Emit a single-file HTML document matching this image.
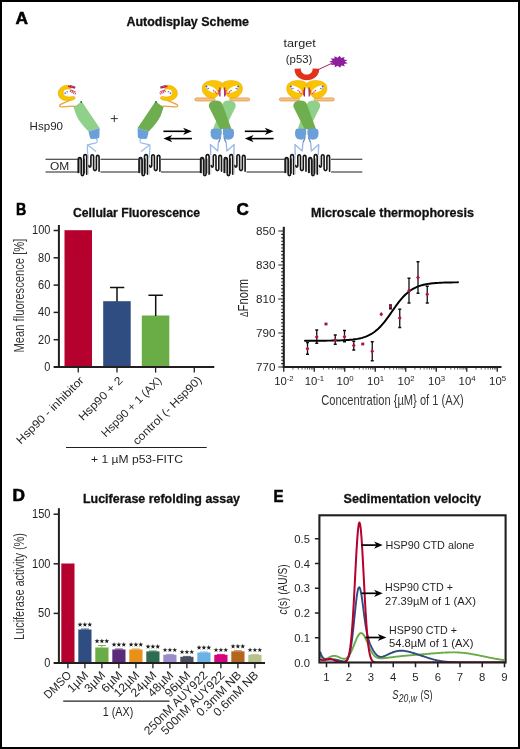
<!DOCTYPE html>
<html><head><meta charset="utf-8"><title>Figure</title>
<style>html,body{margin:0;padding:0;background:#fff;}svg{display:block;will-change:transform;opacity:0.999;}text{font-family:"Liberation Sans",sans-serif;}</style></head><body>
<svg width="520" height="749" viewBox="0 0 520 749">
<rect x="0" y="0" width="520" height="749" fill="#fff"/>
<rect x="1" y="1" width="518" height="747" fill="none" stroke="#000" stroke-width="2"/>
<defs>
<g id="barrel"><rect x="0.3" y="4.6" width="22" height="14" fill="#fff"/><path d="M1.5,18.5 V6.5 a1.3,1.8 0 0 1 2.6,0 V19.5 M6.9,19 V5" fill="none" stroke="#555" stroke-width="1.3" stroke-linecap="round"/><path d="M0.7,18.5 V5.8 a1.5,2.2 0 0 1 3,0 V19.8 a1.25,1.8 0 0 0 2.5,0 V2.8 a1.5,2.2 0 0 1 3,0 V20.3" fill="none" stroke="#161616" stroke-width="1.6" stroke-linecap="round"/><path d="M10.9,1.5 V20.5" stroke="#cfd3d6" stroke-width="1.1" fill="none"/><path d="M11.4,11.5 a1,1.6 0 0 0 2,0 V2.8 a1.35,2 0 0 1 2.7,0 V14.6 a1.4,2 0 0 0 2.8,0 V3.4 a1.35,2 0 0 1 2.7,0 V17.2" fill="none" stroke="#161616" stroke-width="1.6" stroke-linecap="round"/></g>
<g id="head">
<path d="M3.2,-8.3 C-3.5,-9.6 -9.3,-5 -9.1,0.2 C-9,5.6 -4.2,8.6 1,8.3 C4.2,8.2 7.6,7.6 8.9,6.2 C9.6,5 8.6,3.6 7,3.7 C4,4.4 0,4.6 -2.2,3 C-4.4,1.2 -4.2,-2.4 -1.8,-3.9 C0,-4.9 2.4,-4.5 3.6,-4.3 C5,-4.4 5.2,-7.6 3.2,-8.3Z" fill="#f8c400" stroke="#eaa400" stroke-width="0.6"/>
<path d="M1.5,-7.4 L9,-5.6" stroke="#c8202c" stroke-width="1.7" fill="none"/>
<path d="M3.4,-8.4 L9.4,-6.6" stroke="#6a2c91" stroke-width="1.0" fill="none"/>
<path d="M3.6,-2.6 L9.8,0.8" stroke="#e0457b" stroke-width="2.4" stroke-dasharray="1.3 0.7" fill="none"/>
<path d="M4.2,-3.6 L9.6,-1.4" stroke="#c8202c" stroke-width="0.8" fill="none"/>
<path d="M-2.2,0.6 L1,-1.6" stroke="#3b5fc0" stroke-width="1.7" fill="none"/>
<circle cx="-0.2" cy="-0.4" r="1.0" fill="#fff"/>
</g>
<g id="wing">
<path d="M10.2,-6.2 C7,-9.6 -3.5,-10.2 -8,-5.8 C-11.3,-2 -10,4 -5.5,7 C-2.5,9 2,9.2 4.2,7.6 C6,5.5 8,3 8.6,0.8 C9.6,-1.5 10.6,-4 10.2,-6.2Z" fill="#f9c400" stroke="#eba300" stroke-width="0.5"/>
<ellipse cx="-0.6" cy="0.2" rx="6.6" ry="2.5" transform="rotate(27)" fill="#fff"/>
<circle cx="-5.6" cy="-2.8" r="1.0" fill="#3f5fc4"/>
<circle cx="-3.6" cy="-0.9" r="0.8" fill="#5a7bd8"/>
<circle cx="-4.9" cy="-0.6" r="0.6" fill="#8a5ac0"/>
<circle cx="1.6" cy="1.2" r="0.8" fill="#e0457b"/>
<circle cx="3.2" cy="2.6" r="0.8" fill="#c8202c"/>
<circle cx="4.6" cy="4.1" r="0.7" fill="#e0457b"/>
<path d="M7.9,-1.8 V7.2" stroke="#9a1f86" stroke-width="1.2" fill="none"/>
<path d="M6.6,0.5 L7.2,6" stroke="#d62a4a" stroke-width="0.9" fill="none"/>
</g>
</defs>
<text x="15.5" y="24" font-size="16" text-anchor="start" font-weight="bold" stroke="#000" stroke-width="0.55" textLength="12.5" lengthAdjust="spacingAndGlyphs" fill="#000" >A</text>
<text x="126.5" y="25.5" font-size="12.5" text-anchor="start" font-weight="bold" stroke="#111" stroke-width="0.3" textLength="122.5" lengthAdjust="spacingAndGlyphs" fill="#111" >Autodisplay Scheme</text>
<text x="29.6" y="130" font-size="10.6" text-anchor="start" textLength="33.4" lengthAdjust="spacingAndGlyphs" fill="#231f20" >Hsp90</text>
<text x="50" y="170" font-size="10.5" text-anchor="start" textLength="19.2" lengthAdjust="spacingAndGlyphs" fill="#231f20" >OM</text>
<path d="M110.8,118.6 H117.8 M114.3,115.1 V122.1" stroke="#231f20" stroke-width="0.9" fill="none"/>
<text x="283.5" y="47" font-size="11.6" text-anchor="start" textLength="32.3" lengthAdjust="spacingAndGlyphs" fill="#231f20" >target</text>
<text x="285.8" y="62.6" font-size="11.6" text-anchor="start" textLength="26.5" lengthAdjust="spacingAndGlyphs" fill="#231f20" >(p53)</text>
<path d="M45.5,159.25 H78 M45.5,172 H78" stroke="#231f20" stroke-width="1.1" fill="none"/>
<path d="M100.5,159.25 H138.5 M100.5,172 H138.5" stroke="#231f20" stroke-width="1.1" fill="none"/>
<path d="M161,159.25 H200.5 M161,172 H200.5" stroke="#231f20" stroke-width="1.1" fill="none"/>
<path d="M246.5,159.25 H285 M246.5,172 H285" stroke="#231f20" stroke-width="1.1" fill="none"/>
<path d="M331,159.25 H362.3 M331,172 H362.3" stroke="#231f20" stroke-width="1.1" fill="none"/>
<g>
<path d="M96,138 C97.6,140.5 97.6,142.2 96.2,142.8 L87.4,144.8 L96.1,151.4 M87.4,144.8 C87,149 87.6,153 88.2,158" fill="none" stroke="#9cbde7" stroke-width="1.25" stroke-linejoin="round"/>
<path d="M70,100.3 C66,102.8 58.5,104 59.6,106.3 C60.5,108.2 70,105.2 75.5,106.5" fill="none" stroke="#eaa23a" stroke-width="1.3" stroke-linecap="round"/>
<path d="M73.6,107.4 L80.7,102 Q81.6,101.4 82.3,102.3 L99.6,128 L88.5,131.6 Q80,123 76.6,116 Z" fill="#8fd08a"/>
<circle cx="81.2" cy="101.9" r="0.8" fill="#1f3a1a"/>
<path d="M88.5,131.4 L99.6,127.9 L99.4,137 Q98.8,139 96,138.7 L91.5,139 Q90,138.8 89.8,137 Z" fill="#6a9fd9"/>
<use href="#head" transform="translate(66.7,93.1) scale(0.93,0.92)"/>
</g>
<g transform="translate(237.2,0) scale(-1,1)">
<path d="M96,138 C97.6,140.5 97.6,142.2 96.2,142.8 L87.4,144.8 L96.1,151.4 M87.4,144.8 C87,149 87.6,153 88.2,158" fill="none" stroke="#9cbde7" stroke-width="1.25" stroke-linejoin="round"/>
<path d="M70,100.3 C66,102.8 58.5,104 59.6,106.3 C60.5,108.2 70,105.2 75.5,106.5" fill="none" stroke="#eaa23a" stroke-width="1.3" stroke-linecap="round"/>
<path d="M73.6,107.4 L80.7,102 Q81.6,101.4 82.3,102.3 L99.6,128 L88.5,131.6 Q80,123 76.6,116 Z" fill="#6fae4e"/>
<circle cx="81.2" cy="101.9" r="0.8" fill="#1f3a1a"/>
<path d="M88.5,131.4 L99.6,127.9 L99.4,137 Q98.8,139 96,138.7 L91.5,139 Q90,138.8 89.8,137 Z" fill="#6a9fd9"/>
<use href="#head" transform="translate(68.3,93.1) scale(0.93,0.92)"/>
</g>
<use href="#barrel" transform="translate(77.5,154)"/>
<use href="#barrel" transform="translate(138.3,154)"/>
<path d="M163.4,131.3 H186.9" stroke="#000" stroke-width="1.6" fill="none"/>
<path d="M191.9,131.3 L183.1,127.70000000000002 L185.6,131.3 L183.1,134.9Z" fill="#000"/>
<path d="M191.9,138.6 H168.4" stroke="#000" stroke-width="1.6" fill="none"/>
<path d="M163.4,138.6 L172.20000000000002,135.0 L169.70000000000002,138.6 L172.20000000000002,142.2Z" fill="#000"/>
<path d="M244.8,131.3 H268.6" stroke="#000" stroke-width="1.6" fill="none"/>
<path d="M273.6,131.3 L264.8,127.70000000000002 L267.3,131.3 L264.8,134.9Z" fill="#000"/>
<path d="M273.6,138.6 H249.8" stroke="#000" stroke-width="1.6" fill="none"/>
<path d="M244.8,138.6 L253.60000000000002,135.0 L251.10000000000002,138.6 L253.60000000000002,142.2Z" fill="#000"/>
<g transform="translate(222.3,0)">
<g transform="scale(1,1)">
<path d="M-1.6,137.5 L-3.9,143 L-4.6,151 L-11.9,144.6 L-11.5,155" fill="none" stroke="#96b9e5" stroke-width="1.35" stroke-linejoin="round"/>
<path d="M-1.4,136.5 L-3.6,142.2" fill="none" stroke="#5f7496" stroke-width="0.8"/>
</g>
<g transform="scale(-1,1)">
<path d="M-1.6,137.5 L-3.9,143 L-4.6,151 L-11.9,144.6 L-11.5,155" fill="none" stroke="#96b9e5" stroke-width="1.35" stroke-linejoin="round"/>
<path d="M-1.4,136.5 L-3.6,142.2" fill="none" stroke="#5f7496" stroke-width="0.8"/>
</g>
<rect x="-27.4" y="98" width="20" height="2.9" rx="1.45" fill="#f4c48e" stroke="#e6a052" stroke-width="1.0"/>
<rect x="7.4" y="98" width="20" height="2.9" rx="1.45" fill="#f4c48e" stroke="#e6a052" stroke-width="1.0"/>
<path d="M13.4,106.8 L2.3,129 L-9.2,129 L0.6,103.5 Q1.5,100.4 6.5,100.4 Q14.2,100.6 13.4,106.8Z" fill="#8fd08a"/>
<path d="M-13.4,106.8 L-2.3,129 L9.2,129 L-0.2,103.5 Q-1.5,100.4 -6.5,100.4 Q-14.2,100.6 -13.4,106.8Z" fill="#6fae4e"/>
<path d="M-10.8,129 Q-6,128 -0.7,129 Q0.2,134 -2,138 Q-4,140.3 -7,139.6 Q-10,139.5 -11.5,136 Q-12.6,132 -10.8,129Z" fill="#6a9fd9"/>
<path d="M10.8,129 Q6,128 0.7,129 Q-0.2,134 2,138 Q4,140.3 7,139.6 Q10,139.5 11.5,136 Q12.6,132 10.8,129Z" fill="#6a9fd9"/>
<use href="#wing" transform="translate(-10.3,89.4)"/>
<use href="#wing" transform="translate(10.3,89.4) scale(-1,1)"/>
<path d="M0,94.2 L2.3,99 L0,103.2 L-2.3,99Z" fill="#fff"/>
</g>
<use href="#barrel" transform="translate(199.9,154)"/>
<use href="#barrel" transform="translate(223.5,154)"/>
<g transform="translate(306.8,0)">
<g transform="scale(1,1)">
<path d="M-1.6,137.5 L-3.9,143 L-4.6,151 L-11.9,144.6 L-11.5,155" fill="none" stroke="#96b9e5" stroke-width="1.35" stroke-linejoin="round"/>
<path d="M-1.4,136.5 L-3.6,142.2" fill="none" stroke="#5f7496" stroke-width="0.8"/>
</g>
<g transform="scale(-1,1)">
<path d="M-1.6,137.5 L-3.9,143 L-4.6,151 L-11.9,144.6 L-11.5,155" fill="none" stroke="#96b9e5" stroke-width="1.35" stroke-linejoin="round"/>
<path d="M-1.4,136.5 L-3.6,142.2" fill="none" stroke="#5f7496" stroke-width="0.8"/>
</g>
<rect x="-27.4" y="98" width="20" height="2.9" rx="1.45" fill="#f4c48e" stroke="#e6a052" stroke-width="1.0"/>
<rect x="7.4" y="98" width="20" height="2.9" rx="1.45" fill="#f4c48e" stroke="#e6a052" stroke-width="1.0"/>
<path d="M13.4,106.8 L2.3,129 L-9.2,129 L0.6,103.5 Q1.5,100.4 6.5,100.4 Q14.2,100.6 13.4,106.8Z" fill="#8fd08a"/>
<path d="M-13.4,106.8 L-2.3,129 L9.2,129 L-0.2,103.5 Q-1.5,100.4 -6.5,100.4 Q-14.2,100.6 -13.4,106.8Z" fill="#6fae4e"/>
<path d="M-10.8,129 Q-6,128 -0.7,129 Q0.2,134 -2,138 Q-4,140.3 -7,139.6 Q-10,139.5 -11.5,136 Q-12.6,132 -10.8,129Z" fill="#6a9fd9"/>
<path d="M10.8,129 Q6,128 0.7,129 Q-0.2,134 2,138 Q4,140.3 7,139.6 Q10,139.5 11.5,136 Q12.6,132 10.8,129Z" fill="#6a9fd9"/>
<use href="#wing" transform="translate(-10.3,89.4)"/>
<use href="#wing" transform="translate(10.3,89.4) scale(-1,1)"/>
<path d="M0,94.2 L2.3,99 L0,103.2 L-2.3,99Z" fill="#fff"/>
</g>
<use href="#barrel" transform="translate(284.40000000000003,154)"/>
<use href="#barrel" transform="translate(308.0,154)"/>
<path d="M294.6,68.8 L300.8,68.5 C300.5,76.5 313,76.5 312.6,68.5 L319.2,68.8 C319.5,84 294,84 294.6,68.8Z" fill="#e0341a"/>
<path d="M318.3,69.6 L332,63.2" stroke="#b0205a" stroke-width="1" fill="none"/>
<polygon points="347.7,59.9 344.8,61.6 347.8,63.3 343.9,63.9 344.9,66.3 341.3,65.4 340.1,67.7 337.8,65.8 334.8,67.3 334.6,64.8 330.7,65.1 332.7,62.9 329.1,61.8 332.6,60.6 330.5,58.5 334.5,58.6 334.5,56.2 337.6,57.7 339.8,55.7 341.1,57.9 344.7,57.0 343.8,59.4" fill="#8e1f9c"/>
<text x="16" y="214.8" font-size="16" text-anchor="start" font-weight="bold" stroke="#000" stroke-width="0.55" textLength="10.3" lengthAdjust="spacingAndGlyphs" fill="#000" >B</text>
<text x="73" y="217" font-size="12.5" text-anchor="start" font-weight="bold" stroke="#111" stroke-width="0.3" textLength="127" lengthAdjust="spacingAndGlyphs" fill="#111" >Cellular Fluorescence</text>
<rect x="64.5" y="230.2" width="27.5" height="136.8" fill="#b5002d"/>
<rect x="103.2" y="301.2" width="27.5" height="65.8" fill="#2f4d80"/>
<rect x="141.8" y="315.5" width="27.5" height="51.5" fill="#6aac45"/>
<path d="M117,301.5 V287.6 M110,287.6 H124.3" stroke="#111" stroke-width="1.5" fill="none"/>
<path d="M155.7,316 V295.2 M148.4,295.2 H162.8" stroke="#111" stroke-width="1.5" fill="none"/>
<path d="M58.9,225 V368" stroke="#231f20" stroke-width="2" fill="none"/>
<path d="M53.6,367 H214.3" stroke="#231f20" stroke-width="2" fill="none"/>
<text x="50.4" y="370.9" font-size="12.8" text-anchor="end" textLength="6.1" lengthAdjust="spacingAndGlyphs" fill="#231f20" >0</text>
<path d="M53.6,339.7 H58.9" stroke="#231f20" stroke-width="1.5" fill="none"/>
<text x="50.4" y="343.6" font-size="12.8" text-anchor="end" textLength="12.3" lengthAdjust="spacingAndGlyphs" fill="#231f20" >20</text>
<path d="M53.6,312.4 H58.9" stroke="#231f20" stroke-width="1.5" fill="none"/>
<text x="50.4" y="316.3" font-size="12.8" text-anchor="end" textLength="12.3" lengthAdjust="spacingAndGlyphs" fill="#231f20" >40</text>
<path d="M53.6,285.1 H58.9" stroke="#231f20" stroke-width="1.5" fill="none"/>
<text x="50.4" y="289.0" font-size="12.8" text-anchor="end" textLength="12.3" lengthAdjust="spacingAndGlyphs" fill="#231f20" >60</text>
<path d="M53.6,257.8 H58.9" stroke="#231f20" stroke-width="1.5" fill="none"/>
<text x="50.4" y="261.7" font-size="12.8" text-anchor="end" textLength="12.3" lengthAdjust="spacingAndGlyphs" fill="#231f20" >80</text>
<path d="M53.6,230.5 H58.9" stroke="#231f20" stroke-width="1.5" fill="none"/>
<text x="50.4" y="234.4" font-size="12.8" text-anchor="end" textLength="18.4" lengthAdjust="spacingAndGlyphs" fill="#231f20" >100</text>
<path d="M78.25,367 V372.6" stroke="#231f20" stroke-width="1.3" fill="none"/>
<path d="M117,367 V372.6" stroke="#231f20" stroke-width="1.3" fill="none"/>
<path d="M155.6,367 V372.6" stroke="#231f20" stroke-width="1.3" fill="none"/>
<path d="M194.3,367 V372.6" stroke="#231f20" stroke-width="1.3" fill="none"/>
<text transform="translate(23.9,352.5) rotate(-90)" font-size="14.4" textLength="113.8" lengthAdjust="spacingAndGlyphs" fill="#3a3637">Mean fluorescence [%]</text>
<text transform="translate(84.5,381) rotate(-45)" text-anchor="end" font-size="11.2" textLength="90" lengthAdjust="spacingAndGlyphs" fill="#231f20">Hsp90 - inhibitor</text>
<text transform="translate(123.3,381) rotate(-45)" text-anchor="end" font-size="11.2" textLength="57" lengthAdjust="spacingAndGlyphs" fill="#231f20">Hsp90 + 2</text>
<text transform="translate(162.3,381.2) rotate(-45)" text-anchor="end" font-size="11.2" textLength="80" lengthAdjust="spacingAndGlyphs" fill="#231f20">Hsp90 + 1 (AX)</text>
<text transform="translate(202.3,380.5) rotate(-45)" text-anchor="end" font-size="11.2" textLength="92" lengthAdjust="spacingAndGlyphs" fill="#231f20">control (- Hsp90)</text>
<path d="M66,447.5 H206.7" stroke="#231f20" stroke-width="1.2" fill="none"/>
<text x="137" y="463" font-size="10.6" text-anchor="middle" textLength="92" lengthAdjust="spacingAndGlyphs" fill="#231f20" >+ 1 µM p53-FITC</text>
<text x="236.5" y="214.8" font-size="16" text-anchor="start" font-weight="bold" stroke="#000" stroke-width="0.55" textLength="12.3" lengthAdjust="spacingAndGlyphs" fill="#000" >C</text>
<text x="311" y="217" font-size="12.5" text-anchor="start" font-weight="bold" stroke="#111" stroke-width="0.3" textLength="163" lengthAdjust="spacingAndGlyphs" fill="#111" >Microscale thermophoresis</text>
<path d="M283.8,226.8 V368.0" stroke="#231f20" stroke-width="2.1" fill="none"/>
<path d="M282.8,367.0 H501.5" stroke="#231f20" stroke-width="2.0" fill="none"/>
<path d="M278.3,367.00 H283.8 M281.2,363.60 H283.8 M281.2,360.20 H283.8 M281.2,356.80 H283.8 M281.2,353.40 H283.8 M281.2,350.00 H283.8 M281.2,346.60 H283.8 M281.2,343.20 H283.8 M281.2,339.80 H283.8 M281.2,336.40 H283.8 M278.3,333.00 H283.8 M281.2,329.60 H283.8 M281.2,326.20 H283.8 M281.2,322.80 H283.8 M281.2,319.40 H283.8 M281.2,316.00 H283.8 M281.2,312.60 H283.8 M281.2,309.20 H283.8 M281.2,305.80 H283.8 M281.2,302.40 H283.8 M278.3,299.00 H283.8 M281.2,295.60 H283.8 M281.2,292.20 H283.8 M281.2,288.80 H283.8 M281.2,285.40 H283.8 M281.2,282.00 H283.8 M281.2,278.60 H283.8 M281.2,275.20 H283.8 M281.2,271.80 H283.8 M281.2,268.40 H283.8 M278.3,265.00 H283.8 M281.2,261.60 H283.8 M281.2,258.20 H283.8 M281.2,254.80 H283.8 M281.2,251.40 H283.8 M281.2,248.00 H283.8 M281.2,244.60 H283.8 M281.2,241.20 H283.8 M281.2,237.80 H283.8 M281.2,234.40 H283.8 M278.3,231.00 H283.8 " stroke="#231f20" stroke-width="1.15" fill="none"/>
<text x="275.4" y="371.1" font-size="11.6" text-anchor="end" textLength="19.4" lengthAdjust="spacingAndGlyphs" fill="#231f20" >770</text>
<text x="275.4" y="337.1" font-size="11.6" text-anchor="end" textLength="19.4" lengthAdjust="spacingAndGlyphs" fill="#231f20" >790</text>
<text x="275.4" y="303.1" font-size="11.6" text-anchor="end" textLength="19.4" lengthAdjust="spacingAndGlyphs" fill="#231f20" >810</text>
<text x="275.4" y="269.1" font-size="11.6" text-anchor="end" textLength="19.4" lengthAdjust="spacingAndGlyphs" fill="#231f20" >830</text>
<text x="275.4" y="235.1" font-size="11.6" text-anchor="end" textLength="19.4" lengthAdjust="spacingAndGlyphs" fill="#231f20" >850</text>
<path d="M283.75,367.0 V371.8 M314.25,367.0 V371.8 M344.75,367.0 V371.8 M375.25,367.0 V371.8 M405.75,367.0 V371.8 M436.25,367.0 V371.8 M466.75,367.0 V371.8 M497.25,367.0 V371.8 " stroke="#231f20" stroke-width="1.3" fill="none"/>
<path d="M292.93,367.0 V369.6 M298.30,367.0 V369.6 M302.11,367.0 V369.6 M305.07,367.0 V369.6 M307.48,367.0 V369.6 M309.53,367.0 V369.6 M311.29,367.0 V369.6 M312.85,367.0 V369.6 M323.43,367.0 V369.6 M328.80,367.0 V369.6 M332.61,367.0 V369.6 M335.57,367.0 V369.6 M337.98,367.0 V369.6 M340.03,367.0 V369.6 M341.79,367.0 V369.6 M343.35,367.0 V369.6 M353.93,367.0 V369.6 M359.30,367.0 V369.6 M363.11,367.0 V369.6 M366.07,367.0 V369.6 M368.48,367.0 V369.6 M370.53,367.0 V369.6 M372.29,367.0 V369.6 M373.85,367.0 V369.6 M384.43,367.0 V369.6 M389.80,367.0 V369.6 M393.61,367.0 V369.6 M396.57,367.0 V369.6 M398.98,367.0 V369.6 M401.03,367.0 V369.6 M402.79,367.0 V369.6 M404.35,367.0 V369.6 M414.93,367.0 V369.6 M420.30,367.0 V369.6 M424.11,367.0 V369.6 M427.07,367.0 V369.6 M429.48,367.0 V369.6 M431.53,367.0 V369.6 M433.29,367.0 V369.6 M434.85,367.0 V369.6 M445.43,367.0 V369.6 M450.80,367.0 V369.6 M454.61,367.0 V369.6 M457.57,367.0 V369.6 M459.98,367.0 V369.6 M462.03,367.0 V369.6 M463.79,367.0 V369.6 M465.35,367.0 V369.6 M475.93,367.0 V369.6 M481.30,367.0 V369.6 M485.11,367.0 V369.6 M488.07,367.0 V369.6 M490.48,367.0 V369.6 M492.53,367.0 V369.6 M494.29,367.0 V369.6 M495.85,367.0 V369.6 " stroke="#231f20" stroke-width="0.7" fill="none"/>
<text x="274.2" y="385" font-size="11.3" fill="#231f20">10<tspan font-size="7.8" dy="-3.9">-2</tspan></text>
<text x="304.7" y="385" font-size="11.3" fill="#231f20">10<tspan font-size="7.8" dy="-3.9">-1</tspan></text>
<text x="336.6" y="385" font-size="11.3" fill="#231f20">10<tspan font-size="7.8" dy="-3.9">0</tspan></text>
<text x="367.1" y="385" font-size="11.3" fill="#231f20">10<tspan font-size="7.8" dy="-3.9">1</tspan></text>
<text x="397.6" y="385" font-size="11.3" fill="#231f20">10<tspan font-size="7.8" dy="-3.9">2</tspan></text>
<text x="428.1" y="385" font-size="11.3" fill="#231f20">10<tspan font-size="7.8" dy="-3.9">3</tspan></text>
<text x="458.6" y="385" font-size="11.3" fill="#231f20">10<tspan font-size="7.8" dy="-3.9">4</tspan></text>
<text x="489.1" y="385" font-size="11.3" fill="#231f20">10<tspan font-size="7.8" dy="-3.9">5</tspan></text>
<text x="321.3" y="404.8" font-size="14.3" text-anchor="start" textLength="142.5" lengthAdjust="spacingAndGlyphs" fill="#3a3637" >Concentration {µM} of 1 (AX)</text>
<text transform="translate(247.8,317) rotate(-90)" font-size="14" textLength="38" lengthAdjust="spacingAndGlyphs" fill="#231f20"><tspan font-size="10.5">Δ</tspan>Fnorm</text>
<polyline points="305.0,340.74 306.5,340.74 308.0,340.73 309.5,340.73 311.0,340.73 312.5,340.73 314.0,340.72 315.5,340.72 317.0,340.71 318.5,340.71 320.0,340.70 321.5,340.69 323.0,340.68 324.5,340.67 326.0,340.66 327.5,340.65 329.0,340.63 330.5,340.61 332.0,340.59 333.5,340.56 335.0,340.53 336.5,340.50 338.0,340.46 339.5,340.41 341.0,340.36 342.5,340.30 344.0,340.23 345.5,340.15 347.0,340.05 348.5,339.94 350.0,339.82 351.5,339.67 353.0,339.51 354.5,339.31 356.0,339.09 357.5,338.84 359.0,338.55 360.5,338.21 362.0,337.83 363.5,337.40 365.0,336.90 366.5,336.33 368.0,335.69 369.5,334.97 371.0,334.16 372.5,333.25 374.0,332.23 375.5,331.10 377.0,329.85 378.5,328.49 380.0,327.00 381.5,325.39 383.0,323.67 384.5,321.84 386.0,319.90 387.5,317.89 389.0,315.81 390.5,313.68 392.0,311.54 393.5,309.39 395.0,307.26 396.5,305.18 398.0,303.16 399.5,301.23 401.0,299.39 402.5,297.66 404.0,296.05 405.5,294.56 407.0,293.19 408.5,291.94 410.0,290.81 411.5,289.79 413.0,288.87 414.5,288.06 416.0,287.33 417.5,286.69 419.0,286.12 420.5,285.62 422.0,285.18 423.5,284.80 425.0,284.46 426.5,284.17 428.0,283.91 429.5,283.69 431.0,283.50 432.5,283.33 434.0,283.19 435.5,283.06 437.0,282.95 438.5,282.85 440.0,282.77 441.5,282.70 443.0,282.64 444.5,282.59 446.0,282.54 447.5,282.50 449.0,282.47 450.5,282.44 452.0,282.41 453.5,282.39 455.0,282.37 456.5,282.35 458.0,282.34" fill="none" stroke="#000" stroke-width="1.95" stroke-linecap="round"/>
<path d="M307.5,342.5 V354.25 M306.0,342.5 H309.0 M306.0,354.25 H309.0" stroke="#111" stroke-width="1.3" fill="none"/>
<path d="M307.5,346.45 L309.4,348.75 L307.5,351.05 L305.6,348.75Z" fill="#b0143c"/>
<path d="M316.75,330 V343.25 M315.25,330 H318.25 M315.25,343.25 H318.25" stroke="#111" stroke-width="1.3" fill="none"/>
<path d="M316.75,334.7 L318.65,337 L316.75,339.3 L314.85,337Z" fill="#b0143c"/>
<rect x="324.5" y="322.6" width="3" height="2.8" fill="#a0143c"/>
<path d="M335.25,335 V344.25 M333.75,335 H336.75 M333.75,344.25 H336.75" stroke="#111" stroke-width="1.3" fill="none"/>
<path d="M335.25,337.7 L337.15,340 L335.25,342.3 L333.35,340Z" fill="#b0143c"/>
<path d="M344.5,330.5 V341.75 M343.0,330.5 H346.0 M343.0,341.75 H346.0" stroke="#111" stroke-width="1.3" fill="none"/>
<path d="M344.5,334.45 L346.4,336.75 L344.5,339.05 L342.6,336.75Z" fill="#b0143c"/>
<path d="M353.75,341.25 V350 M352.25,341.25 H355.25 M352.25,350 H355.25" stroke="#111" stroke-width="1.3" fill="none"/>
<path d="M353.75,343.2 L355.65,345.5 L353.75,347.8 L351.85,345.5Z" fill="#b0143c"/>
<rect x="361.25" y="342.6" width="3" height="2.8" fill="#a0143c"/>
<path d="M372.25,341.75 V360.75 M370.75,341.75 H373.75 M370.75,360.75 H373.75" stroke="#111" stroke-width="1.3" fill="none"/>
<path d="M372.25,348.95 L374.15,351.25 L372.25,353.55 L370.35,351.25Z" fill="#b0143c"/>
<path d="M381.25,311.95 L383.15,314.25 L381.25,316.55 L379.35,314.25Z" fill="#b0143c"/>
<path d="M390.5,305 V308.75 M389.0,305 H392.0 M389.0,308.75 H392.0" stroke="#111" stroke-width="1.3" fill="none"/>
<rect x="389.0" y="305.35" width="3" height="2.8" fill="#a0143c"/>
<path d="M399.75,309.25 V327.5 M398.25,309.25 H401.25 M398.25,327.5 H401.25" stroke="#111" stroke-width="1.3" fill="none"/>
<path d="M399.75,315.7 L401.65,318 L399.75,320.3 L397.85,318Z" fill="#b0143c"/>
<path d="M409,278.25 V303 M407.5,278.25 H410.5 M407.5,303 H410.5" stroke="#111" stroke-width="1.3" fill="none"/>
<path d="M409,288.45 L410.9,290.75 L409,293.05 L407.1,290.75Z" fill="#b0143c"/>
<path d="M418,261.75 V293.25 M416.5,261.75 H419.5 M416.5,293.25 H419.5" stroke="#111" stroke-width="1.3" fill="none"/>
<path d="M418,275.2 L419.9,277.5 L418,279.8 L416.1,277.5Z" fill="#b0143c"/>
<path d="M427.25,286.25 V303 M425.75,286.25 H428.75 M425.75,303 H428.75" stroke="#111" stroke-width="1.3" fill="none"/>
<path d="M427.25,291.95 L429.15,294.25 L427.25,296.55 L425.35,294.25Z" fill="#b0143c"/>
<text x="12.5" y="501" font-size="16" text-anchor="start" font-weight="bold" stroke="#000" stroke-width="0.55" textLength="12.5" lengthAdjust="spacingAndGlyphs" fill="#000" >D</text>
<text x="83" y="503" font-size="12.5" text-anchor="start" font-weight="bold" stroke="#111" stroke-width="0.3" textLength="157" lengthAdjust="spacingAndGlyphs" fill="#111" >Luciferase refolding assay</text>
<rect x="61.3" y="563.5" width="13.2" height="99.5" fill="#b5002d"/>
<rect x="78.3" y="629.5" width="13.2" height="33.5" fill="#2f4d80"/>
<path d="M84.9,629.5 V629.0 M80.9,629.0 H88.9" stroke="#2f4d80" stroke-width="0.9" fill="none"/>
<polygon points="80.05,622.05 80.67,623.75 82.48,623.81 81.05,624.92 81.55,626.66 80.05,625.65 78.55,626.66 79.05,624.92 77.62,623.81 79.43,623.75" fill="#1e1e1e"/>
<polygon points="84.90,622.05 85.52,623.75 87.33,623.81 85.90,624.92 86.40,626.66 84.90,625.65 83.40,626.66 83.90,624.92 82.47,623.81 84.28,623.75" fill="#1e1e1e"/>
<polygon points="89.75,622.05 90.37,623.75 92.18,623.81 90.75,624.92 91.25,626.66 89.75,625.65 88.25,626.66 88.75,624.92 87.32,623.81 89.13,623.75" fill="#1e1e1e"/>
<rect x="95.3" y="647.5" width="13.2" height="15.5" fill="#6aac45"/>
<path d="M101.9,647.5 V645.5 M97.9,645.5 H105.9" stroke="#6aac45" stroke-width="0.9" fill="none"/>
<polygon points="97.05,638.55 97.67,640.25 99.48,640.31 98.05,641.42 98.55,643.16 97.05,642.15 95.55,643.16 96.05,641.42 94.62,640.31 96.43,640.25" fill="#1e1e1e"/>
<polygon points="101.90,638.55 102.52,640.25 104.33,640.31 102.90,641.42 103.40,643.16 101.90,642.15 100.40,643.16 100.90,641.42 99.47,640.31 101.28,640.25" fill="#1e1e1e"/>
<polygon points="106.75,638.55 107.37,640.25 109.18,640.31 107.75,641.42 108.25,643.16 106.75,642.15 105.25,643.16 105.75,641.42 104.32,640.31 106.13,640.25" fill="#1e1e1e"/>
<rect x="112.3" y="649.5" width="13.2" height="13.5" fill="#5b2a7a"/>
<path d="M118.9,649.5 V649.0 M114.9,649.0 H122.9" stroke="#5b2a7a" stroke-width="0.9" fill="none"/>
<polygon points="114.05,642.05 114.67,643.75 116.48,643.81 115.05,644.92 115.55,646.66 114.05,645.65 112.55,646.66 113.05,644.92 111.62,643.81 113.43,643.75" fill="#1e1e1e"/>
<polygon points="118.90,642.05 119.52,643.75 121.33,643.81 119.90,644.92 120.40,646.66 118.90,645.65 117.40,646.66 117.90,644.92 116.47,643.81 118.28,643.75" fill="#1e1e1e"/>
<polygon points="123.75,642.05 124.37,643.75 126.18,643.81 124.75,644.92 125.25,646.66 123.75,645.65 122.25,646.66 122.75,644.92 121.32,643.81 123.13,643.75" fill="#1e1e1e"/>
<rect x="129.3" y="649.5" width="13.2" height="13.5" fill="#e8901a"/>
<path d="M135.9,649.5 V649.0 M131.9,649.0 H139.9" stroke="#e8901a" stroke-width="0.9" fill="none"/>
<polygon points="131.05,642.05 131.67,643.75 133.48,643.81 132.05,644.92 132.55,646.66 131.05,645.65 129.55,646.66 130.05,644.92 128.62,643.81 130.43,643.75" fill="#1e1e1e"/>
<polygon points="135.90,642.05 136.52,643.75 138.33,643.81 136.90,644.92 137.40,646.66 135.90,645.65 134.40,646.66 134.90,644.92 133.47,643.81 135.28,643.75" fill="#1e1e1e"/>
<polygon points="140.75,642.05 141.37,643.75 143.18,643.81 141.75,644.92 142.25,646.66 140.75,645.65 139.25,646.66 139.75,644.92 138.32,643.81 140.13,643.75" fill="#1e1e1e"/>
<rect x="146.3" y="651.4" width="13.2" height="11.6" fill="#2f6b52"/>
<path d="M152.9,651.4 V651.0 M148.9,651.0 H156.9" stroke="#2f6b52" stroke-width="0.9" fill="none"/>
<polygon points="148.05,644.05 148.67,645.75 150.48,645.81 149.05,646.92 149.55,648.66 148.05,647.65 146.55,648.66 147.05,646.92 145.62,645.81 147.43,645.75" fill="#1e1e1e"/>
<polygon points="152.90,644.05 153.52,645.75 155.33,645.81 153.90,646.92 154.40,648.66 152.90,647.65 151.40,648.66 151.90,646.92 150.47,645.81 152.28,645.75" fill="#1e1e1e"/>
<polygon points="157.75,644.05 158.37,645.75 160.18,645.81 158.75,646.92 159.25,648.66 157.75,647.65 156.25,648.66 156.75,646.92 155.32,645.81 157.13,645.75" fill="#1e1e1e"/>
<rect x="163.3" y="654.8" width="13.2" height="8.2" fill="#9a8cc8"/>
<path d="M169.9,654.8 V654.4 M165.9,654.4 H173.9" stroke="#9a8cc8" stroke-width="0.9" fill="none"/>
<polygon points="165.05,647.45 165.67,649.15 167.48,649.21 166.05,650.32 166.55,652.06 165.05,651.05 163.55,652.06 164.05,650.32 162.62,649.21 164.43,649.15" fill="#1e1e1e"/>
<polygon points="169.90,647.45 170.52,649.15 172.33,649.21 170.90,650.32 171.40,652.06 169.90,651.05 168.40,652.06 168.90,650.32 167.47,649.21 169.28,649.15" fill="#1e1e1e"/>
<polygon points="174.75,647.45 175.37,649.15 177.18,649.21 175.75,650.32 176.25,652.06 174.75,651.05 173.25,652.06 173.75,650.32 172.32,649.21 174.13,649.15" fill="#1e1e1e"/>
<rect x="180.3" y="656.8" width="13.2" height="6.2" fill="#4a4f63"/>
<path d="M186.9,656.8 V656.4 M182.9,656.4 H190.9" stroke="#4a4f63" stroke-width="0.9" fill="none"/>
<polygon points="182.05,649.45 182.67,651.15 184.48,651.21 183.05,652.32 183.55,654.06 182.05,653.05 180.55,654.06 181.05,652.32 179.62,651.21 181.43,651.15" fill="#1e1e1e"/>
<polygon points="186.90,649.45 187.52,651.15 189.33,651.21 187.90,652.32 188.40,654.06 186.90,653.05 185.40,654.06 185.90,652.32 184.47,651.21 186.28,651.15" fill="#1e1e1e"/>
<polygon points="191.75,649.45 192.37,651.15 194.18,651.21 192.75,652.32 193.25,654.06 191.75,653.05 190.25,654.06 190.75,652.32 189.32,651.21 191.13,651.15" fill="#1e1e1e"/>
<rect x="197.3" y="652.5" width="13.2" height="10.5" fill="#6ab2e6"/>
<path d="M203.9,652.5 V652.0 M199.9,652.0 H207.9" stroke="#6ab2e6" stroke-width="0.9" fill="none"/>
<polygon points="199.05,645.05 199.67,646.75 201.48,646.81 200.05,647.92 200.55,649.66 199.05,648.65 197.55,649.66 198.05,647.92 196.62,646.81 198.43,646.75" fill="#1e1e1e"/>
<polygon points="203.90,645.05 204.52,646.75 206.33,646.81 204.90,647.92 205.40,649.66 203.90,648.65 202.40,649.66 202.90,647.92 201.47,646.81 203.28,646.75" fill="#1e1e1e"/>
<polygon points="208.75,645.05 209.37,646.75 211.18,646.81 209.75,647.92 210.25,649.66 208.75,648.65 207.25,649.66 207.75,647.92 206.32,646.81 208.13,646.75" fill="#1e1e1e"/>
<rect x="214.3" y="654.8" width="13.2" height="8.2" fill="#d6007f"/>
<path d="M220.9,654.8 V654.4 M216.9,654.4 H224.9" stroke="#d6007f" stroke-width="0.9" fill="none"/>
<polygon points="216.05,647.45 216.67,649.15 218.48,649.21 217.05,650.32 217.55,652.06 216.05,651.05 214.55,652.06 215.05,650.32 213.62,649.21 215.43,649.15" fill="#1e1e1e"/>
<polygon points="220.90,647.45 221.52,649.15 223.33,649.21 221.90,650.32 222.40,652.06 220.90,651.05 219.40,652.06 219.90,650.32 218.47,649.21 220.28,649.15" fill="#1e1e1e"/>
<polygon points="225.75,647.45 226.37,649.15 228.18,649.21 226.75,650.32 227.25,652.06 225.75,651.05 224.25,652.06 224.75,650.32 223.32,649.21 225.13,649.15" fill="#1e1e1e"/>
<rect x="231.3" y="651.3" width="13.2" height="11.7" fill="#b5651d"/>
<path d="M237.9,651.3 V650.8 M233.9,650.8 H241.9" stroke="#b5651d" stroke-width="0.9" fill="none"/>
<polygon points="233.05,643.85 233.67,645.55 235.48,645.61 234.05,646.72 234.55,648.46 233.05,647.45 231.55,648.46 232.05,646.72 230.62,645.61 232.43,645.55" fill="#1e1e1e"/>
<polygon points="237.90,643.85 238.52,645.55 240.33,645.61 238.90,646.72 239.40,648.46 237.90,647.45 236.40,648.46 236.90,646.72 235.47,645.61 237.28,645.55" fill="#1e1e1e"/>
<polygon points="242.75,643.85 243.37,645.55 245.18,645.61 243.75,646.72 244.25,648.46 242.75,647.45 241.25,648.46 241.75,646.72 240.32,645.61 242.13,645.55" fill="#1e1e1e"/>
<rect x="248.3" y="654.8" width="13.2" height="8.2" fill="#b5c48a"/>
<path d="M254.9,654.8 V654.4 M250.9,654.4 H258.9" stroke="#b5c48a" stroke-width="0.9" fill="none"/>
<polygon points="250.05,647.45 250.67,649.15 252.48,649.21 251.05,650.32 251.55,652.06 250.05,651.05 248.55,652.06 249.05,650.32 247.62,649.21 249.43,649.15" fill="#1e1e1e"/>
<polygon points="254.90,647.45 255.52,649.15 257.33,649.21 255.90,650.32 256.40,652.06 254.90,651.05 253.40,652.06 253.90,650.32 252.47,649.21 254.28,649.15" fill="#1e1e1e"/>
<polygon points="259.75,647.45 260.37,649.15 262.18,649.21 260.75,650.32 261.25,652.06 259.75,651.05 258.25,652.06 258.75,650.32 257.32,649.21 259.13,649.15" fill="#1e1e1e"/>
<path d="M58.9,508.2 V664.0" stroke="#231f20" stroke-width="2" fill="none"/>
<path d="M53.6,663.0 H265" stroke="#231f20" stroke-width="2" fill="none"/>
<text x="50.4" y="666.9" font-size="12.8" text-anchor="end" textLength="6.1" lengthAdjust="spacingAndGlyphs" fill="#231f20" >0</text>
<path d="M53.6,613.4 H58.9" stroke="#231f20" stroke-width="1.5" fill="none"/>
<text x="50.4" y="617.3" font-size="12.8" text-anchor="end" textLength="12.3" lengthAdjust="spacingAndGlyphs" fill="#231f20" >50</text>
<path d="M53.6,563.8 H58.9" stroke="#231f20" stroke-width="1.5" fill="none"/>
<text x="50.4" y="567.7" font-size="12.8" text-anchor="end" textLength="18.4" lengthAdjust="spacingAndGlyphs" fill="#231f20" >100</text>
<path d="M53.6,514.2 H58.9" stroke="#231f20" stroke-width="1.5" fill="none"/>
<text x="50.4" y="518.1" font-size="12.8" text-anchor="end" textLength="18.4" lengthAdjust="spacingAndGlyphs" fill="#231f20" >150</text>
<path d="M67.90,663.0 V668.2 M84.90,663.0 V668.2 M101.90,663.0 V668.2 M118.90,663.0 V668.2 M135.90,663.0 V668.2 M152.90,663.0 V668.2 M169.90,663.0 V668.2 M186.90,663.0 V668.2 M203.90,663.0 V668.2 M220.90,663.0 V668.2 M237.90,663.0 V668.2 M254.90,663.0 V668.2 " stroke="#231f20" stroke-width="1.3" fill="none"/>
<text transform="translate(23.9,640) rotate(-90)" font-size="14.4" textLength="107" lengthAdjust="spacingAndGlyphs" fill="#3a3637">Luciferase activity (%)</text>
<text transform="translate(72.1,676) rotate(-45)" text-anchor="end" font-size="11.8" textLength="33.4" lengthAdjust="spacingAndGlyphs" fill="#231f20">DMSO</text>
<text transform="translate(89.1,676) rotate(-45)" text-anchor="end" font-size="11.8" textLength="24.3" lengthAdjust="spacingAndGlyphs" fill="#231f20">1µM</text>
<text transform="translate(106.1,676) rotate(-45)" text-anchor="end" font-size="11.8" textLength="24.3" lengthAdjust="spacingAndGlyphs" fill="#231f20">3µM</text>
<text transform="translate(123.1,676) rotate(-45)" text-anchor="end" font-size="11.8" textLength="24.3" lengthAdjust="spacingAndGlyphs" fill="#231f20">6µM</text>
<text transform="translate(140.1,676) rotate(-45)" text-anchor="end" font-size="11.8" textLength="30.6" lengthAdjust="spacingAndGlyphs" fill="#231f20">12µM</text>
<text transform="translate(157.1,676) rotate(-45)" text-anchor="end" font-size="11.8" textLength="30.6" lengthAdjust="spacingAndGlyphs" fill="#231f20">24µM</text>
<text transform="translate(174.1,676) rotate(-45)" text-anchor="end" font-size="11.8" textLength="30.6" lengthAdjust="spacingAndGlyphs" fill="#231f20">48µM</text>
<text transform="translate(191.1,676) rotate(-45)" text-anchor="end" font-size="11.8" textLength="30.6" lengthAdjust="spacingAndGlyphs" fill="#231f20">96µM</text>
<text transform="translate(208.1,676) rotate(-45)" text-anchor="end" font-size="11.8" textLength="84" lengthAdjust="spacingAndGlyphs" fill="#231f20">250nM AUY922</text>
<text transform="translate(225.1,676) rotate(-45)" text-anchor="end" font-size="11.8" textLength="84" lengthAdjust="spacingAndGlyphs" fill="#231f20">500nM AUY922</text>
<text transform="translate(242.1,676) rotate(-45)" text-anchor="end" font-size="11.8" textLength="58" lengthAdjust="spacingAndGlyphs" fill="#231f20">0.3mM NB</text>
<text transform="translate(259.1,676) rotate(-45)" text-anchor="end" font-size="11.8" textLength="58" lengthAdjust="spacingAndGlyphs" fill="#231f20">0.6mM NB</text>
<path d="M63.2,701.2 H169.5" stroke="#231f20" stroke-width="1.2" fill="none"/>
<text x="118" y="716.4" font-size="12" text-anchor="middle" textLength="30.5" lengthAdjust="spacingAndGlyphs" fill="#231f20" >1 (AX)</text>
<text x="273.5" y="501.5" font-size="16" text-anchor="start" font-weight="bold" stroke="#000" stroke-width="0.55" textLength="10" lengthAdjust="spacingAndGlyphs" fill="#000" >E</text>
<text x="343.5" y="503" font-size="12.5" text-anchor="start" font-weight="bold" stroke="#111" stroke-width="0.3" textLength="137.5" lengthAdjust="spacingAndGlyphs" fill="#111" >Sedimentation velocity</text>
<clipPath id="eclip"><rect x="319.4" y="515.3" width="186.20000000000005" height="147.20000000000005"/></clipPath>
<g clip-path="url(#eclip)">
<polyline points="320.2,654.81 320.9,656.22 321.6,657.25 322.3,657.98 323.0,658.46 323.7,658.75 324.4,658.88 325.1,658.87 325.8,658.77 326.5,658.58 327.2,658.33 327.9,658.04 328.6,657.72 329.3,657.38 330.0,657.05 330.7,656.73 331.4,656.45 332.1,656.22 332.8,656.04 333.5,655.92 334.2,655.87 334.9,655.89 335.6,655.98 336.3,656.14 337.0,656.35 337.7,656.61 338.4,656.91 339.1,657.23 339.8,657.55 340.5,657.87 341.2,658.17 341.9,658.42 342.6,658.62 343.3,658.75 344.0,658.79 344.7,658.74 345.4,658.58 346.1,658.29 346.8,657.86 347.5,657.30 348.2,656.58 348.9,655.71 349.6,654.68 350.3,653.50 351.0,652.16 351.7,650.69 352.4,649.10 353.1,647.42 353.8,645.67 354.5,643.88 355.2,642.10 355.9,640.37 356.6,638.72 357.3,637.22 358.0,635.89 358.7,634.79 359.4,633.93 360.1,633.35 360.8,633.06 361.5,633.08 362.2,633.40 362.9,634.00 363.6,634.87 364.3,635.98 365.0,637.28 365.7,638.75 366.4,640.34 367.1,642.00 367.8,643.69 368.5,645.37 369.2,647.01 369.9,648.58 370.6,650.04 371.3,651.39 372.0,652.61 372.7,653.69 373.4,654.64 374.1,655.45 374.8,656.14 375.5,656.70 376.2,657.16 376.9,657.53 377.6,657.81 378.3,658.01 379.0,658.16 379.7,658.25 380.4,658.30 381.1,658.32 381.8,658.32 382.5,658.29 383.2,658.24 383.9,658.18 384.6,658.12 385.3,658.04 386.0,657.96 386.7,657.88 387.4,657.80 388.1,657.71 388.8,657.62 389.5,657.54 390.2,657.45 390.9,657.36 391.6,657.27 392.3,657.19 393.0,657.10 393.7,657.02 394.4,656.93 395.1,656.85 395.8,656.76 396.5,656.68 397.2,656.60 397.9,656.52 398.6,656.44 399.3,656.37 400.0,656.29 400.7,656.21 401.4,656.14 402.1,656.07 402.8,655.99 403.5,655.92 404.2,655.85 404.9,655.79 405.6,655.72 406.3,655.65 407.0,655.59 407.7,655.52 408.4,655.46 409.1,655.40 409.8,655.34 410.5,655.27 411.2,655.21 411.9,655.16 412.6,655.10 413.3,655.04 414.0,654.98 414.7,654.92 415.4,654.87 416.1,654.81 416.8,654.76 417.5,654.70 418.2,654.64 418.9,654.59 419.6,654.53 420.3,654.48 421.0,654.42 421.7,654.37 422.4,654.31 423.1,654.26 423.8,654.20 424.5,654.15 425.2,654.09 425.9,654.03 426.6,653.98 427.3,653.92 428.0,653.86 428.7,653.80 429.4,653.75 430.1,653.69 430.8,653.63 431.5,653.57 432.2,653.52 432.9,653.46 433.6,653.40 434.3,653.34 435.0,653.29 435.7,653.23 436.4,653.17 437.1,653.12 437.8,653.06 438.5,653.01 439.2,652.96 439.9,652.91 440.6,652.86 441.3,652.81 442.0,652.76 442.7,652.72 443.4,652.67 444.1,652.63 444.8,652.59 445.5,652.56 446.2,652.52 446.9,652.49 447.6,652.46 448.3,652.44 449.0,652.41 449.7,652.40 450.4,652.38 451.1,652.37 451.8,652.36 452.5,652.36 453.2,652.36 453.9,652.36 454.6,652.37 455.3,652.38 456.0,652.40 456.7,652.42 457.4,652.45 458.1,652.48 458.8,652.52 459.5,652.56 460.2,652.60 460.9,652.65 461.6,652.71 462.3,652.77 463.0,652.83 463.7,652.90 464.4,652.97 465.1,653.05 465.8,653.14 466.5,653.22 467.2,653.31 467.9,653.41 468.6,653.51 469.3,653.62 470.0,653.72 470.7,653.84 471.4,653.95 472.1,654.07 472.8,654.19 473.5,654.32 474.2,654.45 474.9,654.58 475.6,654.71 476.3,654.85 477.0,654.99 477.7,655.13 478.4,655.27 479.1,655.41 479.8,655.56 480.5,655.70 481.2,655.85 481.9,656.00 482.6,656.15 483.3,656.29 484.0,656.44 484.7,656.59 485.4,656.74 486.1,656.89 486.8,657.04 487.5,657.18 488.2,657.33 488.9,657.47 489.6,657.61 490.3,657.76 491.0,657.90 491.7,658.03 492.4,658.17 493.1,658.30 493.8,658.44 494.5,658.57 495.2,658.69 495.9,658.82 496.6,658.94 497.3,659.06 498.0,659.18 498.7,659.29 499.4,659.41 500.1,659.52 500.8,659.62 501.5,659.73 502.2,659.83 502.9,659.92 503.6,660.02 504.3,660.11" fill="none" stroke="#6aac45" stroke-width="1.9" stroke-linejoin="round"/>
<polyline points="320.2,651.69 320.9,653.82 321.6,655.46 322.3,656.70 323.0,657.64 323.7,658.33 324.4,658.82 325.1,659.17 325.8,659.39 326.5,659.53 327.2,659.59 327.9,659.60 328.6,659.58 329.3,659.55 330.0,659.50 330.7,659.45 331.4,659.42 332.1,659.40 332.8,659.40 333.5,659.43 334.2,659.48 334.9,659.56 335.6,659.67 336.3,659.80 337.0,659.95 337.7,660.11 338.4,660.29 339.1,660.48 339.8,660.66 340.5,660.85 341.2,661.02 341.9,661.18 342.6,661.30 343.3,661.39 344.0,661.41 344.7,661.35 345.4,661.16 346.1,660.80 346.8,660.21 347.5,659.31 348.2,658.01 348.9,656.22 349.6,653.81 350.3,650.72 351.0,646.85 351.7,642.18 352.4,636.74 353.1,630.59 353.8,623.93 354.5,616.97 355.2,610.03 355.9,603.46 356.6,597.61 357.3,592.83 358.0,589.41 358.7,587.52 359.4,587.26 360.1,588.57 360.8,591.31 361.5,595.23 362.2,600.01 362.9,605.32 363.6,610.84 364.3,616.28 365.0,621.41 365.7,626.08 366.4,630.22 367.1,633.79 367.8,636.84 368.5,639.42 369.2,641.63 369.9,643.54 370.6,645.22 371.3,646.74 372.0,648.13 372.7,649.42 373.4,650.63 374.1,651.75 374.8,652.77 375.5,653.69 376.2,654.50 376.9,655.19 377.6,655.75 378.3,656.20 379.0,656.52 379.7,656.74 380.4,656.85 381.1,656.87 381.8,656.81 382.5,656.68 383.2,656.50 383.9,656.27 384.6,656.00 385.3,655.71 386.0,655.40 386.7,655.07 387.4,654.74 388.1,654.40 388.8,654.06 389.5,653.73 390.2,653.41 390.9,653.10 391.6,652.80 392.3,652.52 393.0,652.25 393.7,652.01 394.4,651.78 395.1,651.57 395.8,651.38 396.5,651.22 397.2,651.08 397.9,650.96 398.6,650.87 399.3,650.80 400.0,650.75 400.7,650.72 401.4,650.71 402.1,650.73 402.8,650.77 403.5,650.82 404.2,650.89 404.9,650.98 405.6,651.09 406.3,651.21 407.0,651.34 407.7,651.49 408.4,651.65 409.1,651.82 409.8,652.00 410.5,652.18 411.2,652.38 411.9,652.58 412.6,652.79 413.3,653.00 414.0,653.22 414.7,653.44 415.4,653.66 416.1,653.89 416.8,654.12 417.5,654.35 418.2,654.58 418.9,654.82 419.6,655.05 420.3,655.29 421.0,655.53 421.7,655.77 422.4,656.00 423.1,656.24 423.8,656.47 424.5,656.71 425.2,656.94 425.9,657.17 426.6,657.40 427.3,657.63 428.0,657.85 428.7,658.07 429.4,658.29 430.1,658.50 430.8,658.71 431.5,658.91 432.2,659.11 432.9,659.30 433.6,659.48 434.3,659.67 435.0,659.84 435.7,660.01 436.4,660.17 437.1,660.33 437.8,660.48 438.5,660.62 439.2,660.75 439.9,660.88 440.6,661.00 441.3,661.12 442.0,661.23 442.7,661.33 443.4,661.43 444.1,661.52 444.8,661.60 445.5,661.68 446.2,661.76 446.9,661.82 447.6,661.89 448.3,661.95 449.0,662.00 449.7,662.05 450.4,662.10 451.1,662.14 451.8,662.17 452.5,662.21 453.2,662.24 453.9,662.27 454.6,662.29 455.3,662.32 456.0,662.34 456.7,662.36 457.4,662.37 458.1,662.39 458.8,662.40 459.5,662.42 460.2,662.43 460.9,662.44 461.6,662.44 462.3,662.45 463.0,662.46 463.7,662.46 464.4,662.47 465.1,662.47 465.8,662.48 466.5,662.48 467.2,662.48 467.9,662.49 468.6,662.49 469.3,662.49 470.0,662.49 470.7,662.49 471.4,662.49 472.1,662.49 472.8,662.50 473.5,662.50 474.2,662.50 474.9,662.50 475.6,662.50 476.3,662.50 477.0,662.50 477.7,662.50 478.4,662.50 479.1,662.50 479.8,662.50 480.5,662.50 481.2,662.50 481.9,662.50 482.6,662.50 483.3,662.50 484.0,662.50 484.7,662.50 485.4,662.50 486.1,662.50 486.8,662.50 487.5,662.50 488.2,662.50 488.9,662.50 489.6,662.50 490.3,662.50 491.0,662.50 491.7,662.50 492.4,662.50 493.1,662.50 493.8,662.50 494.5,662.50 495.2,662.50 495.9,662.50 496.6,662.50 497.3,662.50 498.0,662.50 498.7,662.50 499.4,662.50 500.1,662.50 500.8,662.50 501.5,662.50 502.2,662.50 502.9,662.50 503.6,662.50 504.3,662.50" fill="none" stroke="#2f4d80" stroke-width="1.9" stroke-linejoin="round"/>
<polyline points="320.2,658.90 320.9,659.58 321.6,660.01 322.3,660.24 323.0,660.31 323.7,660.28 324.4,660.16 325.1,659.99 325.8,659.78 326.5,659.57 327.2,659.37 327.9,659.20 328.6,659.07 329.3,659.00 330.0,659.00 330.7,659.06 331.4,659.19 332.1,659.37 332.8,659.60 333.5,659.87 334.2,660.16 334.9,660.47 335.6,660.76 336.3,661.05 337.0,661.31 337.7,661.54 338.4,661.75 339.1,661.92 339.8,662.06 340.5,662.17 341.2,662.24 341.9,662.29 342.6,662.31 343.3,662.28 344.0,662.20 344.7,662.03 345.4,661.73 346.1,661.24 346.8,660.47 347.5,659.30 348.2,657.58 348.9,655.13 349.6,651.74 350.3,647.19 351.0,641.28 351.7,633.85 352.4,624.80 353.1,614.17 353.8,602.14 354.5,589.04 355.2,575.40 355.9,561.89 356.6,549.26 357.3,538.32 358.0,529.82 358.7,524.38 359.4,522.42 360.1,524.08 360.8,529.23 361.5,537.48 362.2,548.24 362.9,560.76 363.6,574.23 364.3,587.89 365.0,601.05 365.7,613.19 366.4,623.95 367.1,633.14 367.8,640.71 368.5,646.74 369.2,651.40 369.9,654.88 370.6,657.40 371.3,659.18 372.0,660.39 372.7,661.20 373.4,661.71 374.1,662.04 374.8,662.24 375.5,662.35 376.2,662.42 376.9,662.46 377.6,662.48 378.3,662.49 379.0,662.49 379.7,662.50 380.4,662.50 381.1,662.50 381.8,662.50 382.5,662.50 383.2,662.50 383.9,662.50 384.6,662.50 385.3,662.50 386.0,662.50 386.7,662.50 387.4,662.50 388.1,662.50 388.8,662.50 389.5,662.50 390.2,662.50 390.9,662.50 391.6,662.50 392.3,662.50 393.0,662.50 393.7,662.50 394.4,662.50 395.1,662.50 395.8,662.50 396.5,662.50 397.2,662.50 397.9,662.50 398.6,662.50 399.3,662.50 400.0,662.50 400.7,662.50 401.4,662.50 402.1,662.50 402.8,662.50 403.5,662.50 404.2,662.50 404.9,662.50 405.6,662.50 406.3,662.50 407.0,662.50 407.7,662.50 408.4,662.50 409.1,662.50 409.8,662.50 410.5,662.50 411.2,662.50 411.9,662.50 412.6,662.50 413.3,662.50 414.0,662.50 414.7,662.50 415.4,662.50 416.1,662.50 416.8,662.50 417.5,662.50 418.2,662.50 418.9,662.50 419.6,662.50 420.3,662.50 421.0,662.50 421.7,662.50 422.4,662.50 423.1,662.50 423.8,662.50 424.5,662.50 425.2,662.50 425.9,662.50 426.6,662.50 427.3,662.50 428.0,662.50 428.7,662.50 429.4,662.50 430.1,662.50 430.8,662.50 431.5,662.50 432.2,662.50 432.9,662.50 433.6,662.50 434.3,662.50 435.0,662.50 435.7,662.50 436.4,662.50 437.1,662.50 437.8,662.50 438.5,662.50 439.2,662.50 439.9,662.50 440.6,662.50 441.3,662.50 442.0,662.50 442.7,662.50 443.4,662.50 444.1,662.50 444.8,662.50 445.5,662.50 446.2,662.50 446.9,662.50 447.6,662.50 448.3,662.50 449.0,662.50 449.7,662.50 450.4,662.50 451.1,662.50 451.8,662.50 452.5,662.50 453.2,662.50 453.9,662.50 454.6,662.50 455.3,662.50 456.0,662.50 456.7,662.50 457.4,662.50 458.1,662.50 458.8,662.50 459.5,662.50 460.2,662.50 460.9,662.50 461.6,662.50 462.3,662.50 463.0,662.50 463.7,662.50 464.4,662.50 465.1,662.50 465.8,662.50 466.5,662.50 467.2,662.50 467.9,662.50 468.6,662.50 469.3,662.50 470.0,662.50 470.7,662.50 471.4,662.50 472.1,662.50 472.8,662.50 473.5,662.50 474.2,662.50 474.9,662.50 475.6,662.50 476.3,662.50 477.0,662.50 477.7,662.50 478.4,662.50 479.1,662.50 479.8,662.50 480.5,662.50 481.2,662.50 481.9,662.50 482.6,662.50 483.3,662.50 484.0,662.50 484.7,662.50 485.4,662.50 486.1,662.50 486.8,662.50 487.5,662.50 488.2,662.50 488.9,662.50 489.6,662.50 490.3,662.50 491.0,662.50 491.7,662.50 492.4,662.50 493.1,662.50 493.8,662.50 494.5,662.50 495.2,662.50 495.9,662.50 496.6,662.50 497.3,662.50 498.0,662.50 498.7,662.50 499.4,662.50 500.1,662.50 500.8,662.50 501.5,662.50 502.2,662.50 502.9,662.50 503.6,662.50 504.3,662.50" fill="none" stroke="#b5002d" stroke-width="2.0" stroke-linejoin="round"/>
</g>
<rect x="319.4" y="515.3" width="186.20000000000005" height="147.20000000000005" fill="none" stroke="#231f20" stroke-width="2.1"/>
<text x="309.9" y="666.6" font-size="11.6" text-anchor="end" textLength="15.6" lengthAdjust="spacingAndGlyphs" fill="#231f20" >0.0</text>
<text x="309.9" y="641.9" font-size="11.6" text-anchor="end" textLength="15.6" lengthAdjust="spacingAndGlyphs" fill="#231f20" >0.1</text>
<text x="309.9" y="617.1" font-size="11.6" text-anchor="end" textLength="15.6" lengthAdjust="spacingAndGlyphs" fill="#231f20" >0.2</text>
<text x="309.9" y="592.4" font-size="11.6" text-anchor="end" textLength="15.6" lengthAdjust="spacingAndGlyphs" fill="#231f20" >0.3</text>
<text x="309.9" y="567.6" font-size="11.6" text-anchor="end" textLength="15.6" lengthAdjust="spacingAndGlyphs" fill="#231f20" >0.4</text>
<text x="309.9" y="542.9" font-size="11.6" text-anchor="end" textLength="15.6" lengthAdjust="spacingAndGlyphs" fill="#231f20" >0.5</text>
<text x="326.5" y="680.6" font-size="11.3" text-anchor="middle" fill="#231f20" >1</text>
<text x="348.8" y="680.6" font-size="11.3" text-anchor="middle" fill="#231f20" >2</text>
<text x="371.0" y="680.6" font-size="11.3" text-anchor="middle" fill="#231f20" >3</text>
<text x="393.2" y="680.6" font-size="11.3" text-anchor="middle" fill="#231f20" >4</text>
<text x="415.5" y="680.6" font-size="11.3" text-anchor="middle" fill="#231f20" >5</text>
<text x="437.8" y="680.6" font-size="11.3" text-anchor="middle" fill="#231f20" >6</text>
<text x="460.0" y="680.6" font-size="11.3" text-anchor="middle" fill="#231f20" >7</text>
<text x="482.2" y="680.6" font-size="11.3" text-anchor="middle" fill="#231f20" >8</text>
<text x="504.5" y="680.6" font-size="11.3" text-anchor="middle" fill="#231f20" >9</text>
<path d="M314.9,637.75 H319.4 M314.9,613.00 H319.4 M314.9,588.25 H319.4 M314.9,563.50 H319.4 M314.9,538.75 H319.4 M326.50,662.5 V667.3 M348.75,662.5 V667.3 M371.00,662.5 V667.3 M393.25,662.5 V667.3 M415.50,662.5 V667.3 M437.75,662.5 V667.3 M460.00,662.5 V667.3 M482.25,662.5 V667.3 M504.50,662.5 V667.3 " stroke="#231f20" stroke-width="1.5" fill="none"/>
<text transform="translate(286.9,614.4) rotate(-90)" font-size="13.4" textLength="50" lengthAdjust="spacingAndGlyphs" fill="#231f20"><tspan font-style="italic">c</tspan>(s) (AU/S)</text>
<text x="392.2" y="698.6" font-size="13.5" font-style="italic" textLength="6.2" lengthAdjust="spacingAndGlyphs" fill="#231f20">S</text>
<text x="398.8" y="701.7" font-size="10.5" font-style="italic" textLength="18.2" lengthAdjust="spacingAndGlyphs" fill="#231f20">20,w</text>
<text x="420.4" y="698.6" font-size="13.5" textLength="12.2" lengthAdjust="spacingAndGlyphs" fill="#231f20">(S)</text>
<path d="M361.5,545.1 H378.7" stroke="#000" stroke-width="1.7" fill="none"/>
<path d="M382.7,545.1 L374.09999999999997,541.5 L376.5,545.1 L374.09999999999997,548.7Z" fill="#000"/>
<path d="M361.5,593.3 H378.7" stroke="#000" stroke-width="1.7" fill="none"/>
<path d="M382.7,593.3 L374.09999999999997,589.6999999999999 L376.5,593.3 L374.09999999999997,596.9Z" fill="#000"/>
<path d="M365.5,637.5 H382.4" stroke="#000" stroke-width="1.7" fill="none"/>
<path d="M386.4,637.5 L377.79999999999995,633.9 L380.2,637.5 L377.79999999999995,641.1Z" fill="#000"/>
<text x="385.4" y="548.7" font-size="10.6" text-anchor="start" textLength="89" lengthAdjust="spacingAndGlyphs" fill="#231f20" >HSP90 CTD alone</text>
<text x="385" y="591" font-size="10.6" text-anchor="start" textLength="68" lengthAdjust="spacingAndGlyphs" fill="#231f20" >HSP90 CTD +</text>
<text x="385" y="604.5" font-size="10.6" text-anchor="start" textLength="91" lengthAdjust="spacingAndGlyphs" fill="#231f20" >27.39µM of 1 (AX)</text>
<text x="389" y="633.8" font-size="10.6" text-anchor="start" textLength="68" lengthAdjust="spacingAndGlyphs" fill="#231f20" >HSP90 CTD +</text>
<text x="389" y="647.3" font-size="10.6" text-anchor="start" textLength="84.5" lengthAdjust="spacingAndGlyphs" fill="#231f20" >54.8µM of 1 (AX)</text>
</svg></body></html>
